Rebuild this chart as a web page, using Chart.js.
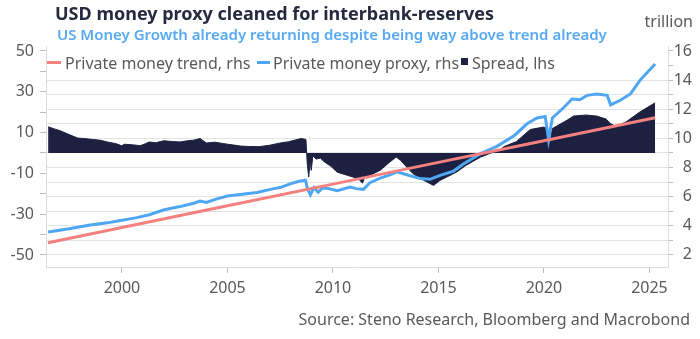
<!DOCTYPE html>
<html><head><meta charset="utf-8">
<script src="https://cdn.jsdelivr.net/npm/chart.js@4/dist/chart.umd.min.js"></script>
<style>
html,body{margin:0;padding:0;background:#fff;}
#wrap{position:relative;width:700px;height:339px;overflow:hidden;font-family:"Noto Sans",sans-serif;}
canvas{position:absolute;left:0;top:0;}
.t{position:absolute;white-space:nowrap;line-height:1;}
#title{left:55px;top:4px;font-size:18px;font-weight:700;color:#262a40;}
#sub{left:57px;top:27px;font-size:15px;font-weight:600;color:#58a9f3;}
#unit{right:7px;top:13px;font-size:16px;color:#595959;}
#source{right:10px;top:311px;font-size:16px;color:#595959;}
.lg{position:absolute;top:55px;font-size:16px;line-height:1;color:#595959;white-space:nowrap;}
.sw{position:absolute;}
</style></head>
<body>
<div id="wrap">
<canvas id="c" width="700" height="339"></canvas>
<div class="t" id="title">USD money proxy cleaned for interbank-reserves</div>
<div class="t" id="sub">US Money Growth already returning despite being way above trend already</div>
<div class="t" id="unit">trillion</div>
<div class="sw" style="left:47px;top:61px;width:14px;height:3px;background:#f4807f"></div>
<div class="lg" style="left:65px">Private money trend, rhs</div>
<div class="sw" style="left:257px;top:61px;width:13px;height:3px;background:#4fa6f3"></div>
<div class="lg" style="left:273px">Private money proxy, rhs</div>
<div class="sw" style="left:461px;top:58px;width:7px;height:7px;background:#1d2040"></div>
<div class="lg" style="left:472px">Spread, lhs</div>
<div class="t" id="source">Source: Steno Research, Bloomberg and Macrobond</div>
</div>
<script>
// ---- data ----
const proxyYears = [1996.5,1997.5,1998.5,1999.3,2000.0,2000.7,2001.3,2002.0,2002.7,2003.4,2003.7,2004.0,2004.5,2005.0,2005.7,2006.4,2007.2,2007.5,2008.0,2008.4,2008.7,2008.8,2008.93,2009.1,2009.3,2009.5,2009.8,2010.2,2010.82,2011.1,2011.45,2011.75,2012.24,2012.7,2013.03,2013.5,2014.14,2014.6,2015.08,2015.7,2016.2,2017.0,2017.77,2018.6,2019.2,2019.67,2020.06,2020.22,2020.4,2020.93,2021.33,2021.7,2022.04,2022.5,2023.0,2023.16,2023.6,2024.1,2024.56,2025.27];
const proxy = [3.57,3.79,4.05,4.2,4.38,4.56,4.76,5.1,5.3,5.55,5.7,5.6,5.85,6.04,6.16,6.28,6.55,6.62,6.89,7.05,7.12,6.5,6.12,6.62,6.3,6.6,6.55,6.4,6.65,6.55,6.5,6.96,7.27,7.49,7.7,7.5,7.24,7.19,7.46,7.74,8.26,8.95,9.45,10.2,11.0,11.4,11.5,9.9,11.4,12.1,12.7,12.65,12.95,13.05,12.95,12.3,12.6,13.05,14.0,15.1];

const trendYears = [1996.5,2000,2005,2010,2015,2020,2025.27];
const trend = [2.84,3.88,5.37,6.86,8.35,9.84,11.42];

const spreadYears = [1996.5,1996.8,1997.1,1997.5,1997.9,1998.3,1998.65,1999.0,1999.3,1999.7,2000.0,2000.1,2000.5,2000.87,2001.1,2001.3,2001.6,2001.97,2002.4,2002.75,2003.1,2003.4,2003.7,2004.0,2004.4,2004.7,2005.0,2005.3,2005.6,2006.0,2006.5,2007.0,2007.5,2007.9,2008.3,2008.5,2008.72,2008.78,2008.85,2008.92,2008.97,2009.05,2009.2,2009.4,2009.6,2009.9,2010.2,2010.7,2011.2,2011.4,2011.5,2011.75,2012.24,2012.7,2013.0,2013.2,2013.5,2013.8,2014.3,2014.77,2015.08,2015.55,2015.87,2016.3,2017.0,2017.5,2017.93,2018.08,2018.7,2019.35,2019.98,2020.13,2020.27,2020.4,2021.1,2021.4,2022.0,2022.5,2022.95,2023.14,2023.4,2023.9,2024.56,2025.27];
const spread = [12.8,11.8,10.8,9.0,7.3,7.0,6.6,6.2,5.4,4.6,3.5,4.3,4.0,3.6,4.5,5.4,5.0,6.0,5.6,5.4,6.0,6.3,7.1,4.9,5.3,4.8,4.3,3.9,3.4,3.2,3.1,3.8,4.9,5.5,6.6,7.1,6.6,-5,-11.8,-4,-8.5,-1.3,-3,-2.5,-4.4,-6.5,-9.4,-11,-12.6,-14.8,-12.1,-11,-8.5,-4.4,-2,-3.6,-7,-10.2,-13.4,-15.9,-13.4,-11,-9.3,-6.1,-2,0,1.3,3,5.6,11.5,12.7,12.2,3.8,12,16.1,18.1,18.6,18.1,16.6,14.5,13.0,15.3,20.2,24.6];

const yearTicks = [2000,2005,2010,2015,2020,2025];
const leftTicks = [-50,-40,-30,-20,-10,0,10,20,30,40,50];
const leftLabels = [50,30,10,-10,-30,-50];
const rightTicks = [2,3,4,5,6,7,8,9,10,11,12,13,14,15,16];
const rightLabels = [2,4,6,8,10,12,14,16];

const FONT = '"Noto Sans", sans-serif';
const TXT = '#595959';
const pts = (xs, ys) => xs.map((x, i) => ({x: x, y: ys[i]}));

new Chart(document.getElementById('c'), {
  type: 'line',
  data: {
    datasets: [
      {label: 'Private money trend, rhs', data: pts(trendYears, trend), yAxisID: 'yR',
       borderColor: '#f4807f', borderWidth: 3, pointRadius: 0, tension: 0, fill: false},
      {label: 'Private money proxy, rhs', data: pts(proxyYears, proxy), yAxisID: 'yR',
       borderColor: '#4fa6f3', borderWidth: 3, pointRadius: 0, tension: 0, fill: false},
      {label: 'Spread, lhs', data: pts(spreadYears, spread), yAxisID: 'yL',
       borderColor: '#1d2040', backgroundColor: '#1d2040', borderWidth: 1, pointRadius: 0, tension: 0, fill: 'origin'}
    ]
  },
  options: {
    responsive: false, animation: false, devicePixelRatio: 1,
    layout: {padding: {left: 0, right: 8, top: 46, bottom: 32}},
    plugins: {legend: {display: false}, tooltip: {enabled: false}},
    scales: {
      x: {
        type: 'linear', position: 'bottom', min: 1996.4, max: 2025.88,
        afterBuildTicks: s => { s.ticks = yearTicks.map(v => ({value: v})); },
        afterFit: s => { s.height = 40; },
        ticks: {callback: v => String(v), font: {family: FONT, size: 16}, color: TXT, padding: 6, maxRotation: 0, autoSkip: false},
        grid: {drawOnChartArea: false, drawTicks: true, tickLength: 6, tickColor: '#bdbdbd'},
        border: {color: '#dcdcdc'}
      },
      yL: {
        type: 'linear', position: 'left', min: -55.9, max: 52.45,
        afterBuildTicks: s => { s.ticks = leftTicks.map(v => ({value: v})); },
        afterFit: s => { s.width = 46; },
        ticks: {callback: v => leftLabels.includes(v) ? String(v) : '', font: {family: FONT, size: 16}, color: TXT, padding: 6, autoSkip: false},
        grid: {drawOnChartArea: false, drawTicks: true, tickLength: 6, tickColor: '#bdbdbd'},
        border: {color: '#dcdcdc'}
      },
      yR: {
        type: 'linear', position: 'right', min: 1.17, max: 16.34,
        afterBuildTicks: s => { s.ticks = rightTicks.map(v => ({value: v})); },
        afterFit: s => { s.width = 24; },
        ticks: {callback: v => rightLabels.includes(v) ? String(v) : '', font: {family: FONT, size: 16}, color: TXT, padding: 4, autoSkip: false, crossAlign: 'far'},
        grid: {drawOnChartArea: true, drawTicks: true, tickLength: 5,
               color: c => (c.tick && c.tick.value >= 15) ? 'rgba(0,0,0,0)' : '#e3e3e3',
               tickColor: '#bdbdbd'},
        border: {color: '#dcdcdc'}
      }
    }
  }
});
</script>
</body></html>
